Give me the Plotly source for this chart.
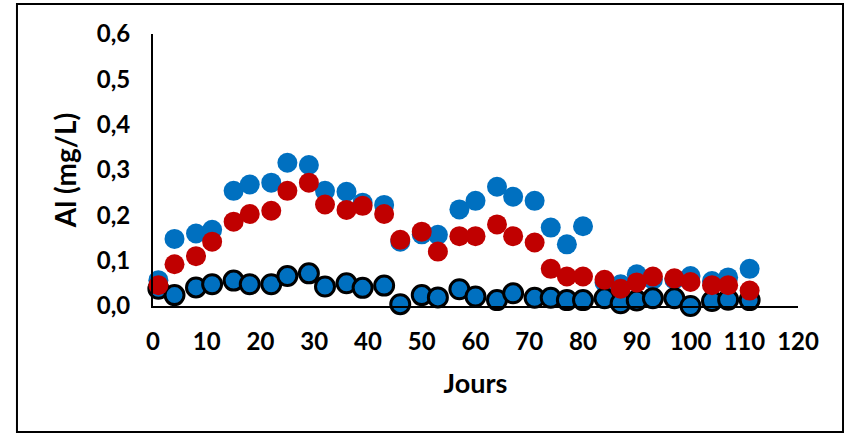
import plotly.graph_objects as go

days = [1, 4, 8, 11, 15, 18, 22, 25, 29, 32, 36, 39, 43, 46, 50, 53, 57, 60, 64, 67,
        71, 74, 77, 80, 84, 87, 90, 93, 97, 100, 104, 107, 111]

al_blue = [0.057, 0.148, 0.160, 0.168, 0.254, 0.268, 0.272, 0.316, 0.311, 0.254, 0.252,
           0.228, 0.223, 0.142, 0.158, 0.157, 0.213, 0.232, 0.263, 0.241, 0.232, 0.173,
           0.136, 0.176, 0.052, 0.048, 0.070, 0.058, 0.058, 0.066, 0.055, 0.063, 0.082]

al_red = [0.046, 0.092, 0.110, 0.142, 0.186, 0.203, 0.210, 0.254, 0.272, 0.224, 0.212,
          0.221, 0.203, 0.146, 0.164, 0.120, 0.154, 0.154, 0.180, 0.154, 0.140, 0.082,
          0.065, 0.065, 0.058, 0.038, 0.052, 0.065, 0.061, 0.053, 0.046, 0.046, 0.034]

al_outlined = [0.038, 0.024, 0.041, 0.048, 0.056, 0.048, 0.048, 0.066, 0.072, 0.043,
               0.050, 0.040, 0.045, 0.004, 0.024, 0.019, 0.037, 0.021, 0.013, 0.028,
               0.018, 0.018, 0.013, 0.013, 0.017, 0.006, 0.012, 0.017, 0.017, 0.000,
               0.011, 0.014, 0.013]

x_ticks = [0, 10, 20, 30, 40, 50, 60, 70, 80, 90, 100, 110, 120]
y_ticks = [0.0, 0.1, 0.2, 0.3, 0.4, 0.5, 0.6]

BLUE = "#0070C0"
RED = "#C00000"
FONT = "Lato"

fig = go.Figure()
fig.add_trace(go.Scatter(x=days, y=al_blue, mode="markers",
                         marker=dict(color=BLUE, size=20, line=dict(width=0)),
                         cliponaxis=False, showlegend=False))
fig.add_trace(go.Scatter(x=days, y=al_outlined, mode="markers",
                         marker=dict(color=BLUE, size=19, line=dict(color="black", width=3)),
                         cliponaxis=False, showlegend=False))
fig.add_trace(go.Scatter(x=days, y=al_red, mode="markers",
                         marker=dict(color=RED, size=20, line=dict(width=0)),
                         cliponaxis=False, showlegend=False))

fig.update_layout(
    width=844, height=434,
    margin=dict(l=153, r=46, t=34, b=128),
    paper_bgcolor="white", plot_bgcolor="white",
    separators=", ",
    font=dict(family=FONT, size=24, color="black"),
    showlegend=False,
)

fig.update_xaxes(
    range=[0, 120], tickvals=x_ticks, ticktext=[str(v) for v in x_ticks],
    showgrid=False, zeroline=False,
    showline=True, linecolor="black", linewidth=2,
    ticks="", ticklabelstandoff=13,
    tickfont=dict(family=FONT, size=24, color="black", weight="bold"),
    title=dict(text="<b>Jours</b>", font=dict(family=FONT, size=27, color="black"), standoff=20),
)
fig.update_yaxes(
    range=[0, 0.6], tickvals=y_ticks, tickformat=".1f",
    showgrid=False, zeroline=False,
    showline=True, linecolor="black", linewidth=2,
    ticks="", ticklabelstandoff=16,
    tickfont=dict(family=FONT, size=24, color="black", weight="bold"),
    title=dict(text="<b>Al (mg/L)</b>", font=dict(family=FONT, size=28, color="black"), standoff=12),
)

# outer chart frame
fig.add_shape(type="rect", xref="paper", yref="paper",
              x0=-0.2109, x1=1.0698, y0=-0.4632, y1=1.1103,
              line=dict(color="black", width=2), fillcolor="rgba(0,0,0,0)", layer="below")

fig.write_html("out.html",
               config={"displayModeBar": False},
               post_script="document.body.style.margin='0px';document.body.style.overflow='hidden';")
